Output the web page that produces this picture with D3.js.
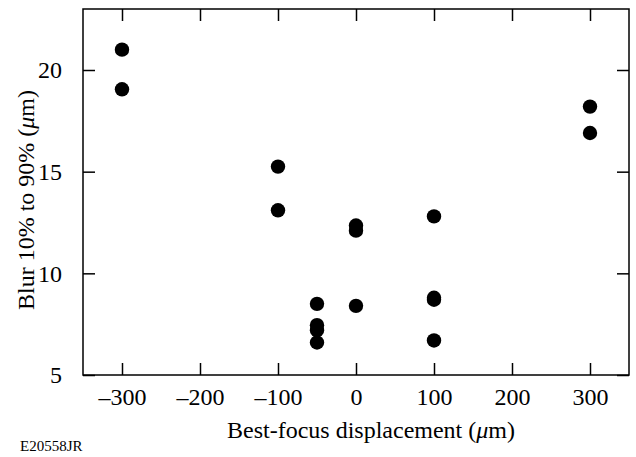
<!DOCTYPE html>
<html>
<head>
<meta charset="utf-8">
<script src="https://cdn.jsdelivr.net/npm/d3@7"></script>
<style>
  body { margin: 0; background: #fff; }
  svg text { font-family: 'Liberation Serif', 'Times New Roman', Times, 'DejaVu Serif', serif !important; fill: #000; }
</style>
</head>
<body>
<div id="chart"></div>
<script>
// best-focus displacement (um) and the 10%-90% blur (um)
var displacement = [-300, -300, -100, -100, -50, -50, -50, -50, 0, 0, 0, 100, 100, 100, 100, 300, 300];
var blur = [21.0, 19.05, 15.25, 13.1, 8.5, 7.45, 7.2, 6.6, 12.35, 12.1, 8.4, 12.8, 8.8, 8.7, 6.7, 18.2, 16.9];
var xTicks = [-300, -200, -100, 0, 100, 200, 300];
var yTicks = [5, 10, 15, 20];

var width = 636, height = 457;
var margin = { left: 83, right: 7, top: 9, bottom: 82 };
var tickLen = 12;
var serif = "'Liberation Serif', 'Times New Roman', Times, serif";

var svg = d3.select("#chart")
    .append("svg")
    .attr("width", width)
    .attr("height", height)
    .attr("font-family", serif);

var x = d3.scaleLinear().domain([-350, 350]).range([margin.left, width - margin.right]);
var y = d3.scaleLinear().domain([5, 23]).range([height - margin.bottom, margin.top]);

var fmt = function(d) { return d < 0 ? "\u2013" + Math.abs(d) : String(d); };

// frame
svg.append("rect")
    .attr("x", x(-350))
    .attr("y", y(23))
    .attr("width", x(350) - x(-350))
    .attr("height", y(5) - y(23))
    .attr("fill", "none")
    .attr("stroke", "#000")
    .attr("stroke-width", 1.5);

// inward ticks on all four sides, labels only bottom and left
function axisStyle(g) {
    g.attr("font-family", serif).attr("font-size", 24);
    g.select(".domain").remove();
    g.selectAll(".tick line").attr("stroke", "#000").attr("stroke-width", 1.5);
}

svg.append("g")
    .attr("transform", "translate(0," + y(5) + ")")
    .call(d3.axisBottom(x).tickValues(xTicks).tickSizeInner(-tickLen).tickPadding(tickLen + 1).tickFormat(fmt))
    .call(axisStyle);

svg.append("g")
    .attr("transform", "translate(0," + y(23) + ")")
    .call(d3.axisTop(x).tickValues(xTicks).tickSizeInner(-tickLen).tickFormat(""))
    .call(axisStyle);

svg.append("g")
    .attr("transform", "translate(" + x(-350) + ",0)")
    .call(d3.axisLeft(y).tickValues(yTicks).tickSizeInner(-tickLen).tickPadding(tickLen + 9).tickFormat(d3.format("d")))
    .call(axisStyle);

svg.append("g")
    .attr("transform", "translate(" + x(350) + ",0)")
    .call(d3.axisRight(y).tickValues(yTicks).tickSizeInner(-tickLen).tickFormat(""))
    .call(axisStyle);

// points
svg.append("g")
    .selectAll("circle")
    .data(displacement)
    .enter()
    .append("circle")
    .attr("cx", function(d) { return x(d); })
    .attr("cy", function(d, i) { return y(blur[i]); })
    .attr("r", 7.2)
    .attr("fill", "#000");

// axis titles
var xt = svg.append("text")
    .attr("x", 371)
    .attr("y", 438)
    .attr("text-anchor", "middle")
    .attr("font-size", 24);
xt.append("tspan").text("Best-focus displacement (");
xt.append("tspan").attr("font-style", "italic").text("\u03bc");
xt.append("tspan").text("m)");

var yt = svg.append("text")
    .attr("transform", "translate(34,200) rotate(-90)")
    .attr("text-anchor", "middle")
    .attr("font-size", 24);
yt.append("tspan").text("Blur 10% to 90% (");
yt.append("tspan").attr("font-style", "italic").text("\u03bc");
yt.append("tspan").text("m)");

svg.append("text")
    .attr("x", 20)
    .attr("y", 451)
    .attr("font-size", 15)
    .text("E20558JR");
</script>
</body>
</html>
